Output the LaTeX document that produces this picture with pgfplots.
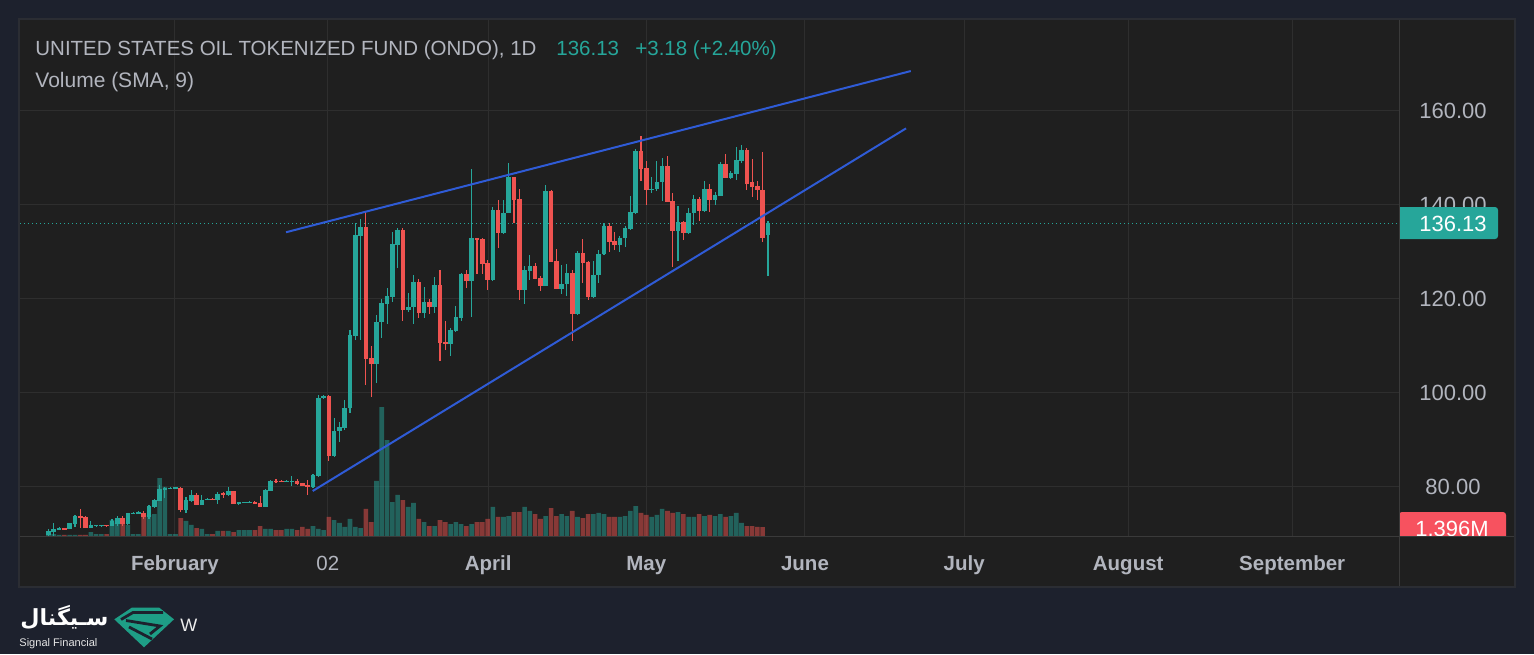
\documentclass[border=0pt]{standalone}
\usepackage{fontspec}
\setmainfont{Liberation Sans}
\newfontfamily\fafont[Script=Arabic]{DejaVu Sans}
\usepackage{graphicx}
\usepackage{pgfplots}
\pgfplotsset{compat=1.18}
\usepackage{pgfplotstable}
\TeXXeTstate=1
\definecolor{outerbg}{HTML}{1D212D}
\definecolor{panelbg}{HTML}{1F1F1F}
\definecolor{panelbd}{HTML}{2B2D33}
\definecolor{gridc}{HTML}{2E2E2E}
\definecolor{sepc}{HTML}{3A3A3A}
\definecolor{upc}{HTML}{26A69A}
\definecolor{downc}{HTML}{EF5350}
\definecolor{txt}{HTML}{B2B5BE}
\definecolor{tline}{HTML}{2F5BD6}
\definecolor{vlab}{HTML}{F7525F}
\definecolor{logoc}{HTML}{1E9E86}

\pgfplotstableread{
i o h l c v
0 69.8 71.0 69.6 70.6 0.16
1 70.5 72.3 69.6 71.1 0.31
2 71.0 71.4 70.9 71.3 0.16
4 71.1 72.4 71.0 72.3 0.16
5 72.1 74.0 71.5 73.8 0.16
8 71.3 72.7 71.2 71.9 0.62
9 71.8 71.9 71.7 71.85 0.31
10 71.8 71.9 71.7 71.85 0.31
12 71.7 73.2 71.6 72.8 2.48
13 72.1 73.8 71.8 73.5 2.02
15 72.1 74.5 72.0 74.4 1.71
16 74.4 74.6 74.3 74.5 0.31
17 74.45 74.8 74.3 74.55 0.31
19 73.6 76.1 73.1 76.0 3.26
20 75.8 77.4 75.6 77.2 3.41
21 77.1 80.4 77.0 79.6 8.99
22 79.5 80.1 77.6 79.7 7.60
23 79.6 79.9 79.5 79.8 0.31
24 79.6 80.1 79.5 79.9 0.31
26 75.0 77.9 74.5 77.2 2.33
27 77.1 79.4 76.9 78.4 1.71
29 76.2 78.3 76.1 77.2 1.09
30 77.3 77.6 77.2 77.5 0.31
32 77.2 78.9 76.4 78.5 0.78
34 78.2 80.1 78.1 79.1 0.78
36 76.5 76.9 76.1 76.7 0.93
37 76.7 76.9 76.6 76.8 0.93
38 76.6 77.0 76.5 76.9 0.93
41 75.8 79.5 75.7 79.4 1.09
42 79.2 81.4 79.1 81.3 1.09
45 81.2 81.4 81.1 81.3 1.09
46 81.2 82.3 80.2 81.3 1.09
50 79.9 82.7 79.8 82.5 1.55
51 82.4 99.6 82.1 98.9 1.09
52 98.9 99.6 98.7 99.3 0.93
54 86.5 94.6 86.4 91.9 2.48
55 91.9 93.9 89.6 92.8 2.02
56 92.6 98.5 92.1 96.9 1.40
57 96.9 113.4 95.8 112.3 2.64
58 112.1 136.1 111.3 133.6 1.40
59 133.4 137.0 111.3 135.4 1.24
62 106.2 116.6 102.2 115.2 8.53
63 115.0 120.1 111.8 119.1 20.0
64 119.0 122.3 114.7 120.6 14.88
65 120.5 134.3 119.4 131.7 5.27
66 131.5 135.2 126.7 134.7 6.36
68 117.7 121.3 117.3 118.4 4.50
69 118.2 125.1 114.7 123.7 5.12
71 117.1 122.5 115.9 119.4 2.17
73 118.2 124.6 117.0 123.0 1.55
76 110.4 113.8 107.9 113.4 1.86
77 113.2 118.5 113.0 116.2 2.17
78 116.0 125.6 115.4 125.3 1.86
80 123.9 147.7 116.2 132.9 1.86
84 124.0 139.6 123.9 138.9 4.50
86 134.1 141.1 133.9 138.4 2.95
87 138.4 148.9 138.3 145.9 3.10
90 121.9 127.0 118.9 126.2 4.50
91 126.0 129.4 124.0 127.0 3.88
94 122.8 144.3 122.7 143.0 3.10
97 122.2 127.2 121.1 123.2 3.41
98 123.1 127.4 120.6 125.5 3.10
100 116.8 130.2 116.7 129.8 2.95
103 120.5 128.1 120.3 125.1 3.41
104 125.0 130.5 123.5 129.6 3.57
105 129.5 136.1 129.4 135.5 3.41
108 131.4 133.3 129.9 133.0 2.95
109 132.9 135.5 131.1 135.2 3.10
110 134.9 142.0 134.7 138.5 3.88
111 138.4 152.0 138.1 151.5 4.65
114 143.2 146.0 142.6 143.5 2.95
115 143.4 149.4 143.0 144.8 3.26
116 144.8 150.0 140.9 148.2 4.19
119 134.5 139.8 128.1 136.4 3.72
121 134.0 139.3 133.8 138.4 2.95
122 138.2 142.1 135.8 141.3 2.95
124 138.7 145.0 138.6 143.3 3.10
126 141.1 142.8 140.0 142.1 3.10
127 142.0 149.2 141.9 148.7 3.41
129 145.8 147.3 145.5 146.9 3.10
130 146.6 152.4 145.3 149.6 3.57
131 149.4 152.8 149.0 151.7 2.02
136 133.6 136.5 124.8 136.13 0
}\upT

\pgfplotstableread{
i o h l c v
3 71.2 71.3 71.0 71.1 0.16
6 73.8 75.3 71.3 73.4 0.16
7 73.6 73.9 71.2 71.3 0.16
11 71.85 71.9 71.7 71.8 0.31
14 73.5 73.8 71.7 72.1 2.02
18 74.5 74.8 73.1 73.6 2.95
25 79.8 80.0 74.6 75.0 2.79
28 78.4 78.7 76.1 76.2 1.24
31 77.5 77.6 77.2 77.3 0.31
33 78.7 78.9 77.7 78.2 0.78
35 79.1 79.2 76.3 76.4 0.62
39 76.9 77.0 76.4 76.5 0.93
40 76.7 78.1 75.7 75.8 1.55
43 81.3 81.7 80.8 81.2 0.93
44 81.25 81.4 81.0 81.2 0.93
47 81.3 81.8 80.5 80.6 0.93
48 80.8 80.9 80.2 80.3 1.40
49 80.4 81.5 78.2 79.9 1.09
53 99.4 99.6 85.6 86.5 2.95
60 135.4 138.6 101.6 107.2 4.19
61 107.4 110.0 99.2 106.2 2.17
67 134.7 135.0 115.4 117.7 5.58
70 123.7 124.3 115.9 117.1 2.64
72 119.4 120.0 116.8 118.2 1.55
74 123.0 126.2 106.9 110.7 2.48
75 110.8 115.3 109.1 110.4 2.17
79 125.3 126.2 122.4 123.9 1.55
81 132.9 133.0 125.3 132.6 2.17
82 132.8 133.0 125.3 127.4 2.17
83 127.6 128.3 121.9 124.0 2.64
85 138.9 141.1 130.9 134.1 2.95
88 145.9 146.0 136.1 141.1 3.72
89 141.2 143.3 119.8 121.9 3.72
92 127.0 127.6 124.2 124.3 3.41
93 124.5 124.9 121.6 122.8 2.64
95 143.0 143.1 127.8 127.9 4.34
96 128.1 130.6 122.1 122.2 3.10
99 125.5 126.2 111.1 116.8 3.88
101 129.7 132.8 123.5 127.7 2.79
102 127.9 128.0 119.8 120.5 3.41
106 135.5 136.1 129.9 132.2 2.95
107 132.3 134.3 130.4 131.4 2.95
112 151.5 154.7 145.2 147.7 3.57
113 147.8 149.4 140.0 143.2 3.26
117 148.2 150.4 140.6 140.7 3.88
118 140.9 142.6 126.9 134.5 3.57
120 136.4 136.5 132.6 134.0 3.41
123 141.3 141.8 136.5 138.7 3.41
125 143.3 144.5 138.6 141.1 3.26
128 148.7 150.9 145.7 145.8 2.95
132 151.7 152.1 143.1 144.5 1.55
133 144.8 149.7 141.6 143.9 1.55
134 144.0 145.0 141.0 143.1 1.40
135 143.2 151.3 132.2 132.9 1.396
}\dnT

\pgfplotsset{
  chartgeom/.style={at={(10pt,-268pt)}, anchor=south west, scale only axis,
    width=689.5pt, height=258pt, xmin=-5.388, xmax=255.29},
}

\begin{document}
\begin{tikzpicture}
\fill[outerbg] (0,0) rectangle (767pt,-327pt);
\begin{scope}[x=0.5pt,y=-0.5pt]
\fill[panelbg] (19,19) rectangle (1515,587);
\end{scope}

% grid and tick labels
\begin{axis}[chartgeom, ymin=69.57, ymax=179.36,
  axis line style={draw=none}, major tick length=0pt,
  grid=major, grid style={gridc, line width=0.5pt},
  xtick={23.9,52.8,83.1,113.0,143.0,173.1,204.1,235.1},
  xticklabels={\textbf{February},02,\textbf{April},\textbf{May},\textbf{June},\textbf{July},\textbf{August},\textbf{September}},
  xticklabel style={anchor=base, yshift=-17pt, text=txt, font=\fontsize{10.25}{12}\selectfont},
  ytick={80,100,120,140,160},
  yticklabels={80.00,100.00,120.00,140.00,160.00},
  yticklabel pos=right,
  yticklabel style={anchor=center, xshift=27pt, text=txt, font=\fontsize{11}{13}\selectfont},
]
\addplot[draw=none] coordinates {(0,100)};
\end{axis}

% volume
\begin{axis}[chartgeom, ymin=0, ymax=80, hide axis, ybar, bar width=2.3pt, bar shift=0pt]
\addplot[fill=upc, fill opacity=0.5, draw=none] table[x=i, y=v] {\upT};
\addplot[fill=downc, fill opacity=0.5, draw=none] table[x=i, y=v] {\dnT};
\end{axis}

% candles and drawings
\begin{axis}[chartgeom, ymin=69.57, ymax=179.36, hide axis]
\addplot[upc, line width=0.5pt, dash pattern=on 0.6pt off 1.4pt] coordinates {(-5.388,136.13) (255.29,136.13)};
\addplot[draw=none, mark=none, error bars/.cd, y dir=both, y explicit, error mark=none,
  error bar style={draw=upc, solid, line width=0.55pt}]
  table[x=i, y expr={(\thisrow{h}+\thisrow{l})/2}, y error expr={(\thisrow{h}-\thisrow{l})/2}] {\upT};
\addplot[draw=none, mark=none, error bars/.cd, y dir=both, y explicit, error mark=none,
  error bar style={draw=downc, solid, line width=0.55pt}]
  table[x=i, y expr={(\thisrow{h}+\thisrow{l})/2}, y error expr={(\thisrow{h}-\thisrow{l})/2}] {\dnT};
\addplot[draw=none, mark=none, error bars/.cd, y dir=both, y explicit, error mark=none,
  error bar style={draw=upc, solid, line width=2.3pt}]
  table[x=i, y expr={(\thisrow{o}+\thisrow{c})/2}, y error expr={max(abs(\thisrow{c}-\thisrow{o})/2,0.11)}] {\upT};
\addplot[draw=none, mark=none, error bars/.cd, y dir=both, y explicit, error mark=none,
  error bar style={draw=downc, solid, line width=2.3pt}]
  table[x=i, y expr={(\thisrow{o}+\thisrow{c})/2}, y error expr={max(abs(\thisrow{c}-\thisrow{o})/2,0.11)}] {\dnT};
\addplot[tline, line width=1pt] coordinates {(44.9,134.2) (163.0,168.5)};
\addplot[tline, line width=1pt] coordinates {(49.94,79.15) (162.1,156.3)};
\end{axis}

\begin{scope}[x=0.5pt,y=-0.5pt]
% legend texts
\node[anchor=base west, inner sep=0, text=txt, font=\fontsize{10.25}{12}\selectfont] at (35,55) {UNITED STATES OIL TOKENIZED FUND (ONDO), 1D};
\node[anchor=base west, inner sep=0, text=upc, font=\fontsize{10.25}{12}\selectfont] at (556,55) {136.13};
\node[anchor=base west, inner sep=0, text=upc, font=\fontsize{10.25}{12}\selectfont] at (635,55) {+3.18 (+2.40\%)};
\node[anchor=base west, inner sep=0, text=txt, font=\fontsize{10.5}{12}\selectfont] at (35,87) {Volume (SMA, 9)};
% last price label
\fill[upc] (1399,207) [rounded corners=1.5pt] -- (1498,207) -- (1498,239) [sharp corners] -- (1399,239) -- cycle;
\node[anchor=center, inner sep=0, text=white, font=\fontsize{11}{13}\selectfont] at (1453,223.5) {136.13};
% volume label (clipped by time axis)
\begin{scope}
\clip (1399,500) rectangle (1515,536);
\fill[vlab, rounded corners=1.5pt] (1399,512) rectangle (1506,560);
\node[anchor=base, inner sep=0, text=white, font=\fontsize{11}{13}\selectfont] at (1452,536) {1.396M};
\end{scope}
% separators and border
\draw[sepc, line width=0.5pt] (1399,19) -- (1399,587);
\draw[sepc, line width=0.5pt] (19,536) -- (1515,536);
\draw[panelbd, line width=0.7pt] (19,19) rectangle (1515,587);
% branding
\node[anchor=west, inner sep=0, text=white] at (20,617) {\resizebox{44pt}{!}{\fafont\bfseries\beginR سـیگنال\endR}};
\node[anchor=base west, inner sep=0, text=white!80!gray] at (19,646) {\resizebox{39pt}{!}{Signal Financial}};
\fill[logoc] (131.7,607.7) -- (159.3,607.7) -- (174,619.3) -- (144,647.3) -- (114.3,619.3) -- cycle;
\draw[outerbg, line width=1.4pt, line join=miter] (121,619.5) -- (133,612.5) -- (163,612.5);
\draw[outerbg, line width=1.4pt, line join=miter] (126,620.5) -- (160,626) -- (150,634);
\draw[outerbg, line width=1.4pt, line join=miter] (129,627) -- (152,639);
\node[anchor=base west, inner sep=0, text=white!85!gray, font=\fontsize{9}{11}\selectfont] at (180,631) {W};
\end{scope}
\pgfresetboundingbox
\useasboundingbox (0,0) rectangle (767pt,-327pt);
\end{tikzpicture}
\end{document}
